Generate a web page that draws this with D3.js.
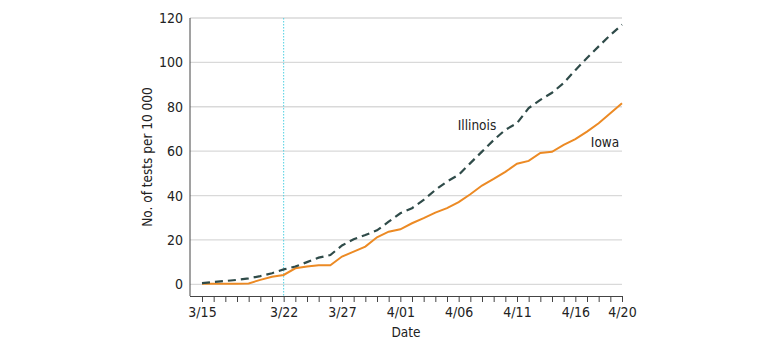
<!DOCTYPE html>
<html><head><meta charset="utf-8">
<script src="https://cdn.jsdelivr.net/npm/d3@7"></script>
<style>body{margin:0;background:#fff;} svg{display:block;font-family:"DejaVu Sans Condensed","DejaVu Sans",sans-serif;}</style>
</head><body>
<svg id="c" width="780" height="351"></svg>
<script>
const dates = ["3/15","3/16","3/17","3/18","3/19","3/20","3/21","3/22","3/23","3/24","3/25","3/26","3/27","3/28","3/29","3/30","3/31","4/01","4/02","4/03","4/04","4/05","4/06","4/07","4/08","4/09","4/10","4/11","4/12","4/13","4/14","4/15","4/16","4/17","4/18","4/19","4/20"];
const illinois = [0.5,1,1.5,2,2.7,3.7,5,6.7,8,10,12,13.2,17.5,20.3,22.2,24.3,28.2,32,34.3,38,42.5,46.3,49.3,54.6,59.8,65,69.6,72.6,79.4,83.1,86.3,90.7,96.5,102,107.2,112.3,117];
const iowa = [0.3,0.3,0.3,0.3,0.4,2,3.4,4.2,7.2,8,8.6,8.6,12.5,14.7,17,21.2,23.7,24.8,27.5,29.8,32.3,34.3,37,40.6,44.5,47.5,50.7,54.3,55.6,59.2,59.7,62.8,65.4,68.8,72.6,77.1,81.6];
const yTicks = [0,20,40,60,80,100,120];
const xTickLabels = ["3/15","3/22","3/27","4/01","4/06","4/11","4/16","4/20"];
const markerDate = "3/22";

const svg = d3.select("#c");
const pLeft = 190, pRight = 622, pTop = 18, zeroY = 284.3, axisY = 296;
const x = d3.scalePoint().domain(dates).range([202, pRight]);
const y = d3.scaleLinear().domain([0,120]).range([zeroY, pTop]);

// gridlines
svg.append("g").selectAll("line").data(yTicks).join("line")
  .attr("x1", pLeft).attr("x2", pRight)
  .attr("y1", d=>y(d)).attr("y2", d=>y(d))
  .attr("stroke", "#d9d9d9").attr("stroke-width", 1.3);

// y labels
svg.append("g").selectAll("text").data(yTicks).join("text")
  .attr("x", 183).attr("y", d=>y(d)).attr("dy","0.36em")
  .attr("text-anchor","end").attr("font-size",14).attr("fill","#222")
  .text(d=>d);

// axes lines
svg.append("line").attr("x1",pLeft).attr("x2",pLeft).attr("y1",pTop).attr("y2",axisY)
  .attr("stroke","#444").attr("stroke-width",1);
const xAxis = d3.axisBottom(x).tickSize(6).tickSizeOuter(0)
  .tickFormat(d => xTickLabels.includes(d) ? d : "");
const gx = svg.append("g").attr("transform",`translate(0,${axisY})`).call(xAxis);
gx.select(".domain").attr("d", `M${pLeft},0.5H${pRight}`).attr("stroke","#444");
gx.selectAll(".tick line").attr("stroke","#444");
gx.selectAll(".tick text").attr("font-size",14).attr("fill","#222").attr("dy","0.85em")
  .attr("font-family","DejaVu Sans Condensed");

// marker line
svg.append("line").attr("x1",x(markerDate)).attr("x2",x(markerDate)).attr("y1",pTop).attr("y2",axisY)
  .attr("stroke","#4fd0e2").attr("stroke-width",1).attr("stroke-dasharray","1.5,1.5");

const line = d3.line().x((d,i)=>x(dates[i])).y(d=>y(d));
svg.append("path").datum(iowa).attr("d",line).attr("fill","none")
  .attr("stroke","#ec8a24").attr("stroke-width",2);
svg.append("path").datum(illinois).attr("d",line).attr("fill","none")
  .attr("stroke","#2f4b49").attr("stroke-width",2.2).attr("stroke-dasharray","8,5");

svg.append("text").attr("x",477).attr("y",130).attr("text-anchor","middle")
  .attr("font-size",13.5).attr("fill","#222").text("Illinois");
svg.append("text").attr("x",605).attr("y",147).attr("text-anchor","middle")
  .attr("font-size",13.5).attr("fill","#222").text("Iowa");

svg.append("text").attr("x",406).attr("y",337).attr("text-anchor","middle")
  .attr("font-size",13.5).attr("fill","#222").text("Date");
svg.append("text").attr("transform","translate(152,157) rotate(-90)").attr("text-anchor","middle")
  .attr("font-size",13.5).attr("fill","#222").text("No. of tests per 10 000");
</script>
</body></html>
